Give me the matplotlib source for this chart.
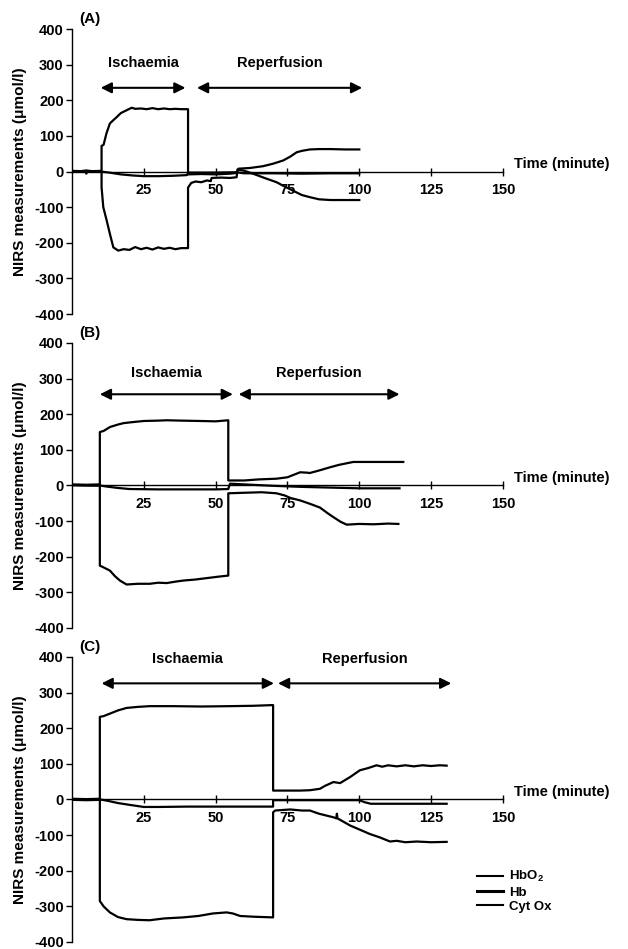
import matplotlib
matplotlib.use('Agg')
import matplotlib.pyplot as plt
from matplotlib.lines import Line2D

plt.rcParams['font.family'] = ['Liberation Sans', 'DejaVu Sans']
plt.rcParams['font.weight'] = 'bold'
plt.rcParams['axes.unicode_minus'] = False
plt.rcParams['mathtext.fontset'] = 'custom'
plt.rcParams['mathtext.rm'] = 'Liberation Sans:bold'
plt.rcParams['mathtext.bf'] = 'Liberation Sans:bold'

# (minute, umol/l)
hb_a = [(0, 2), (3, 1), (5, 3), (7, 1), (10.3, 2), (10.3, 72), (11, 75), (12, 107), (13.2, 135),
        (14.5, 145), (15.6, 153), (17, 164), (19, 172), (20.8, 179), (22, 176), (24, 177),
        (26, 175), (28, 178), (30, 175), (32, 177), (34, 175), (36, 176), (38, 175), (40.4, 175),
        (40.4, -8), (45, -7), (50, -8), (55, -6), (57.3, -4), (58, 8), (62, 10), (66.5, 15),
        (70, 22), (73.5, 31), (76, 42), (78.2, 54), (80, 58), (82.8, 62), (86, 63), (90, 63),
        (95, 62), (100, 62)]
hbo2_a = [(0, 0), (3, -1), (4.8, -1), (5, -6), (5.2, -1), (7, 0), (10.3, -1), (10.3, -44),
          (10.9, -100), (12.1, -138), (13.2, -175), (14.4, -213), (16.1, -222), (18, -218),
          (20, -220), (22, -212), (24, -218), (26, -214), (28, -219), (30, -213), (32, -217),
          (34, -214), (36, -218), (38, -215), (40.4, -215), (40.4, -45), (41.5, -32), (43, -28),
          (45, -30), (47, -25), (48.3, -27), (48.6, -18), (52, -17), (55, -18), (57.3, -16),
          (57.6, 6), (60, 2), (63, -6), (67, -18), (71.2, -30), (74, -42), (77, -54), (80, -66),
          (82.8, -72), (86, -78), (90, -80), (95, -80), (100, -80)]
cyt_a = [(0, 0), (5, -1), (10, 0), (13, -3), (17, -8), (21, -11), (25, -13), (30, -13),
         (35, -12), (40, -10), (40.5, -3), (50, -3), (57, -2), (60, -5), (70, -5), (80, -6),
         (90, -5), (100, -5)]

hb_b = [(0, 3), (5, 2), (9.7, 3), (9.7, 150), (11, 153), (13.2, 164), (16, 171), (18, 175),
        (21.3, 178), (25, 181), (30, 182), (33, 183), (38, 182), (44.6, 181), (50, 180),
        (54.4, 183), (54.4, 14), (60, 14), (65, 17), (71.2, 19), (75, 23), (79.4, 37),
        (81.7, 36), (82.8, 35), (86, 42), (89.8, 51), (93, 58), (97.9, 66), (100, 66),
        (105, 66), (110, 66), (115.3, 66)]
hbo2_b = [(0, 1), (5, 0), (9.7, 0), (9.7, -225), (11, -230), (13.2, -239), (15, -255),
          (16.7, -267), (19, -278), (23, -276), (27.1, -276), (30, -273), (33, -274),
          (36, -270), (38.7, -267), (43, -264), (47, -260), (51, -256), (54.4, -253),
          (54.4, -22), (58, -21), (62, -20), (66, -19), (71.2, -22), (74, -28), (76, -35),
          (79.4, -42), (83, -52), (86.3, -62), (89, -78), (91, -89), (93.5, -102),
          (95.6, -110), (100, -108), (105, -109), (110, -107), (113.6, -108)]
cyt_b = [(0, 1), (9.7, 0), (12, -3), (16, -7), (20, -10), (30, -11), (40, -11), (50, -11),
         (54.4, -10), (55, 5), (60, 3), (70, -1), (80, -4), (90, -6), (100, -8), (114, -8)]

hb_c = [(0, 2), (5, 1), (9.7, 2), (9.7, 232), (11, 234), (13.2, 241), (16, 250), (19, 257),
        (23, 260), (27.1, 262), (35, 262), (45, 261), (55, 262), (63, 263), (70, 265),
        (70, 25), (75, 25), (79.4, 25), (82.8, 26), (86.3, 30), (88, 38), (91, 49), (93.3, 46),
        (96.8, 63), (100.2, 82), (103, 88), (106, 96), (108, 92), (110, 96), (113, 93),
        (116, 96), (119, 93), (122, 96), (125, 94), (128, 96), (130.4, 95)]
hbo2_c = [(0, -1), (5, -2), (9.7, -1), (9.7, -285), (11, -300), (13.2, -317), (16, -330),
          (19, -336), (23, -338), (27, -339), (32, -334), (38.7, -331), (44, -327), (49, -320),
          (53.8, -317), (56, -320), (58.5, -327), (63, -329), (70, -331), (70, -36),
          (70.7, -31), (76, -28), (80, -31), (82.8, -31), (86, -40), (91, -50), (92, -53),
          (92.2, -40), (92.4, -53), (96.8, -73), (103.7, -97), (107, -106), (110.7, -118),
          (113, -116), (116, -120), (120, -118), (125, -120), (130.4, -119)]
cyt_c = [(0, 1), (9.7, 0), (12, -3), (16, -10), (20, -15), (25, -21), (30, -21), (40, -20),
         (50, -20), (60, -20), (70, -20), (70, -2), (80, -2), (90, -2), (100, -2), (102, -8),
         (104, -12), (110, -12), (120, -12), (130.4, -12)]

panels = ['(A)', '(B)', '(C)']
curves = [(hbo2_a, hb_a, cyt_a), (hbo2_b, hb_b, cyt_b), (hbo2_c, hb_c, cyt_c)]
ischaemia_spans = [(10, 39.5), (9.7, 56), (10.3, 70.3)]
reperfusion_spans = [(43.5, 101), (58, 114), (71.7, 132)]
arrow_levels = [235, 256, 326]
text_levels = [304, 315, 394]
legend_labels = [r'HbO$_2$', 'Hb', 'Cyt Ox']

xticks = [25, 50, 75, 100, 125, 150]
yticks = list(range(-400, 401, 100))

fig = plt.figure(figsize=(6.28, 9.49), dpi=100)
bottoms = [0.6691, 0.3383, 0.0074]

for i in range(3):
    ax = fig.add_axes([0.1146, bottoms[i], 0.6863, 0.3003])
    for curve in curves[i]:
        ax.plot([p[0] for p in curve], [p[1] for p in curve], color='black', lw=1.6)

    ax.set_xlim(0, 150)
    ax.set_ylim(-400, 400)
    ax.set_xticks(xticks)
    ax.set_yticks(yticks)
    ax.spines['top'].set_visible(False)
    ax.spines['right'].set_visible(False)
    ax.spines['bottom'].set_position(('data', 0))
    ax.spines['left'].set_linewidth(1.0)
    ax.spines['bottom'].set_linewidth(1.0)
    ax.tick_params(axis='x', direction='inout', length=6, width=1, pad=5, labelsize=10.5)
    ax.tick_params(axis='y', direction='out', length=4, width=1, pad=2, labelsize=10.5)
    ax.patch.set_visible(False)

    ax.set_ylabel('NIRS measurements (μmol/l)', fontsize=11, fontweight='bold')
    ax.yaxis.set_label_coords(-0.105, 0.5)

    ax.text(154, 20, 'Time (minute)', fontsize=10.5, fontweight='bold', va='center', ha='left')
    ax.annotate(panels[i], xy=(0, 1), xycoords='axes fraction', xytext=(5, 7),
                textcoords='offset points', fontsize=11, fontweight='bold', va='center')

    arrow_props = dict(arrowstyle='<|-|>', color='black', lw=1.5, mutation_scale=16,
                       shrinkA=0, shrinkB=0)
    for span, name in [(ischaemia_spans[i], 'Ischaemia'), (reperfusion_spans[i], 'Reperfusion')]:
        ax.annotate('', xy=(span[1], arrow_levels[i]), xytext=(span[0], arrow_levels[i]),
                    arrowprops=arrow_props, annotation_clip=False)
        ax.text((span[0] + span[1]) / 2, text_levels[i], name, ha='center', va='center',
                fontsize=10.5, fontweight='bold')

    if i == 2:
        handles = [Line2D([], [], color='black', lw=1.5),
                   Line2D([], [], color='black', lw=2.2),
                   Line2D([], [], color='black', lw=1.5)]
        ax.legend(handles, legend_labels, loc='upper left', bbox_to_anchor=(0.94, 0.255),
                  frameon=False, fontsize=9.5, handlelength=2.0, handletextpad=0.4,
                  labelspacing=0.15, borderpad=0, borderaxespad=0)

fig.savefig('out.png', dpi=100)
